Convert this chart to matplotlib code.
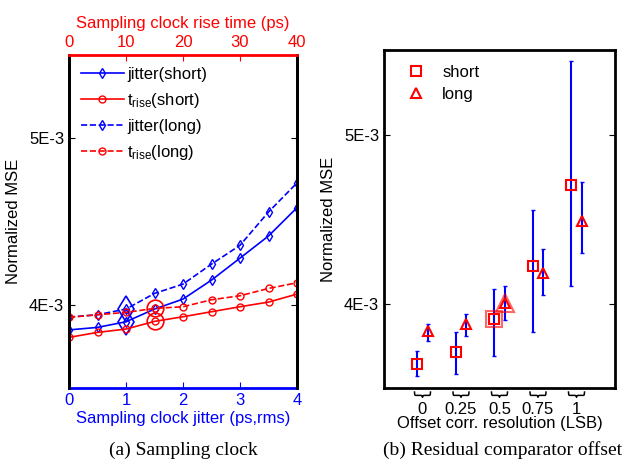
import numpy as np
import matplotlib
matplotlib.use("Agg")
import matplotlib.pyplot as plt
import matplotlib.transforms as mtransforms

plt.rcParams['font.family'] = ['Liberation Sans', 'DejaVu Sans']
plt.rcParams['mathtext.fontset'] = 'custom'
plt.rcParams['mathtext.rm'] = 'Liberation Sans'
plt.rcParams['mathtext.it'] = 'Liberation Sans'

# (a) sampling clock
jitter = [0, 0.5, 1, 1.5, 2, 2.5, 3, 3.5, 4]
rise = [0, 5, 10, 15, 20, 25, 30, 35, 40]
jitter_short = [3.849e-3, 3.864e-3, 3.898e-3, 3.974e-3, 4.034e-3, 4.148e-3, 4.280e-3, 4.413e-3, 4.583e-3]
jitter_long = [3.926e-3, 3.940e-3, 3.974e-3, 4.068e-3, 4.124e-3, 4.244e-3, 4.357e-3, 4.557e-3, 4.732e-3]
rise_short = [3.804e-3, 3.834e-3, 3.854e-3, 3.900e-3, 3.928e-3, 3.958e-3, 3.988e-3, 4.016e-3, 4.064e-3]
rise_long = [3.924e-3, 3.940e-3, 3.954e-3, 3.978e-3, 3.988e-3, 4.030e-3, 4.054e-3, 4.098e-3, 4.132e-3]
jitter_pick = 1.0   # highlighted point
rise_pick = 15

# (b) residual comparator offset
offset_res = [0, 0.25, 0.5, 0.75, 1]
offset_labels = ['0', '0.25', '0.5', '0.75', '1']
mse_short = [3.643e-3, 3.712e-3, 3.910e-3, 4.222e-3, 4.704e-3]
short_hi = [3.717e-3, 3.832e-3, 4.086e-3, 4.554e-3, 5.437e-3]
short_lo = [3.569e-3, 3.585e-3, 3.692e-3, 3.832e-3, 4.105e-3]
mse_long = [3.838e-3, 3.881e-3, 4.004e-3, 4.183e-3, 4.487e-3]
long_hi = [3.881e-3, 3.940e-3, 4.105e-3, 4.320e-3, 4.721e-3]
long_lo = [3.780e-3, 3.809e-3, 3.902e-3, 4.050e-3, 4.296e-3]
offset_pick = 0.5

fig = plt.figure(figsize=(6.23, 4.61), dpi=100)
W, H = 623, 461
fs = 12
ms = 5

# ---- left panel ----
ax = fig.add_axes([69 / W, (H - 388) / H, 228 / W, 333 / H])
ax.plot(jitter, jitter_short, '-', color='blue', marker='d', mfc='none', ms=ms, lw=1.2, label='jitter(short)')
ax.plot([], [], '-', color='red', marker='o', mfc='none', ms=ms, lw=1.2, label=r'$\mathregular{t_{rise}}$(short)')
ax.plot(jitter, jitter_long, '--', color='blue', marker='d', mfc='none', ms=ms, lw=1.2, label='jitter(long)')
ax.plot([], [], '--', color='red', marker='o', mfc='none', ms=ms, lw=1.2, label=r'$\mathregular{t_{rise}}$(long)')
i = jitter.index(jitter_pick)
ax.plot([jitter_pick] * 2, [jitter_short[i], jitter_long[i]], ls='none', marker='d',
        mfc='none', mec='blue', ms=13, mew=1.2)
ax.set_xlim(0, 4)
ax.set_ylim(3.5e-3, 5.5e-3)
ax.set_yticks([4e-3, 5e-3])
ax.set_yticklabels(['4E-3', '5E-3'])
ax.set_xticks([0, 1, 2, 3, 4])
ax.tick_params(direction='in', labelsize=fs, length=4)
ax.tick_params(axis='x', colors='blue')
ax.tick_params(axis='y', right=True)
ax.set_xlabel('Sampling clock jitter (ps,rms)', color='blue', fontsize=fs, labelpad=2)
ax.set_ylabel('Normalized MSE', fontsize=fs, labelpad=6)
for s in ['left', 'right']:
    ax.spines[s].set_linewidth(2)
ax.spines['bottom'].set_color('blue')
ax.spines['bottom'].set_linewidth(2)
ax.legend(loc='upper left', frameon=False, fontsize=fs, handlelength=2.6,
          borderaxespad=0.3, labelspacing=0.55, handletextpad=0.2)

ax2 = ax.twiny()
ax2.plot(rise, rise_short, '-', color='red', marker='o', mfc='none', ms=ms, lw=1.2)
ax2.plot(rise, rise_long, '--', color='red', marker='o', mfc='none', ms=ms, lw=1.2)
j = rise.index(rise_pick)
ax2.plot([rise_pick] * 2, [rise_short[j], rise_long[j]], ls='none', marker='o',
         mfc='none', mec='red', ms=12, mew=1.2)
ax2.set_xlim(0, 40)
ax2.set_xticks([0, 10, 20, 30, 40])
ax2.tick_params(direction='in', labelsize=fs, colors='red', length=4)
ax2.spines['top'].set_color('red')
ax2.spines['top'].set_linewidth(2)
ax2.spines['bottom'].set_visible(False)
for s in ['left', 'right']:
    ax2.spines[s].set_linewidth(2)
ax2.set_xlabel('Sampling clock rise time (ps)', color='red', fontsize=fs, labelpad=5)

fig.text(183 / W, 1 - 450 / H, '(a) Sampling clock', family='Liberation Serif',
         fontsize=14, ha='center', va='center')

# ---- right panel ----
bx = fig.add_axes([384 / W, (H - 388) / H, 231 / W, 338 / H])
d = 0.033
xs = np.array(offset_res) - d
xl = np.array(offset_res) + d
ms_ = np.array(mse_short)
ml_ = np.array(mse_long)
bx.errorbar(xs, ms_, yerr=[ms_ - np.array(short_lo), np.array(short_hi) - ms_],
            fmt='none', ecolor='blue', elinewidth=1.5, capsize=1.5)
bx.errorbar(xl, ml_, yerr=[ml_ - np.array(long_lo), np.array(long_hi) - ml_],
            fmt='none', ecolor='blue', elinewidth=1.5, capsize=1.5)
bx.plot(xs, ms_, ls='none', marker='s', mfc='none', mec='red', ms=6.5, mew=1.5, label='short')
bx.plot(xl, ml_, ls='none', marker='^', mfc='none', mec='red', ms=7, mew=1.5, label='long')
k = offset_res.index(offset_pick)
bx.plot(xs[k], ms_[k], marker='s', mfc='none', mec='red', ms=11, mew=1.5, alpha=0.6)
bx.plot(xl[k], ml_[k], marker='^', mfc='none', mec='red', ms=13, mew=1.5, alpha=0.6)
bx.set_xlim(-0.25, 1.25)
bx.set_ylim(3.5e-3, 5.5e-3)
bx.set_yticks([4e-3, 5e-3])
bx.set_yticklabels(['4E-3', '5E-3'])
bx.set_xticks(offset_res)
bx.set_xticklabels(offset_labels)
bx.tick_params(direction='in', labelsize=fs, length=4)
bx.tick_params(axis='y', right=True)
bx.tick_params(axis='x', length=0, pad=10)
for s in bx.spines.values():
    s.set_linewidth(2)
bx.set_ylabel('Normalized MSE', fontsize=fs, labelpad=6)
bx.set_xlabel('Offset corr. resolution (LSB)', fontsize=fs, labelpad=-1)

# curly braces under each group
trans = mtransforms.blended_transform_factory(bx.transData, bx.transAxes)
bw = 0.052
u = np.array([-1, -0.97, -0.9, -0.2, -0.05, 0, 0.05, 0.2, 0.9, 0.97, 1])
v = np.array([1, 0.45, 0.3, 0.3, 0.2, -0.1, 0.2, 0.3, 0.3, 0.45, 1])
for x in offset_res:
    bx.plot(x + u * bw, -0.012 - (1 - v) * 0.014, color='black', lw=1.1,
            transform=trans, clip_on=False)

bx.legend(loc='upper left', frameon=False, fontsize=fs, numpoints=1,
          handletextpad=0.6, labelspacing=0.4, borderaxespad=0.5)

fig.text(503 / W, 1 - 450 / H, '(b) Residual comparator offset', family='Liberation Serif',
         fontsize=14, ha='center', va='center')

fig.savefig('out.png', dpi=100)
